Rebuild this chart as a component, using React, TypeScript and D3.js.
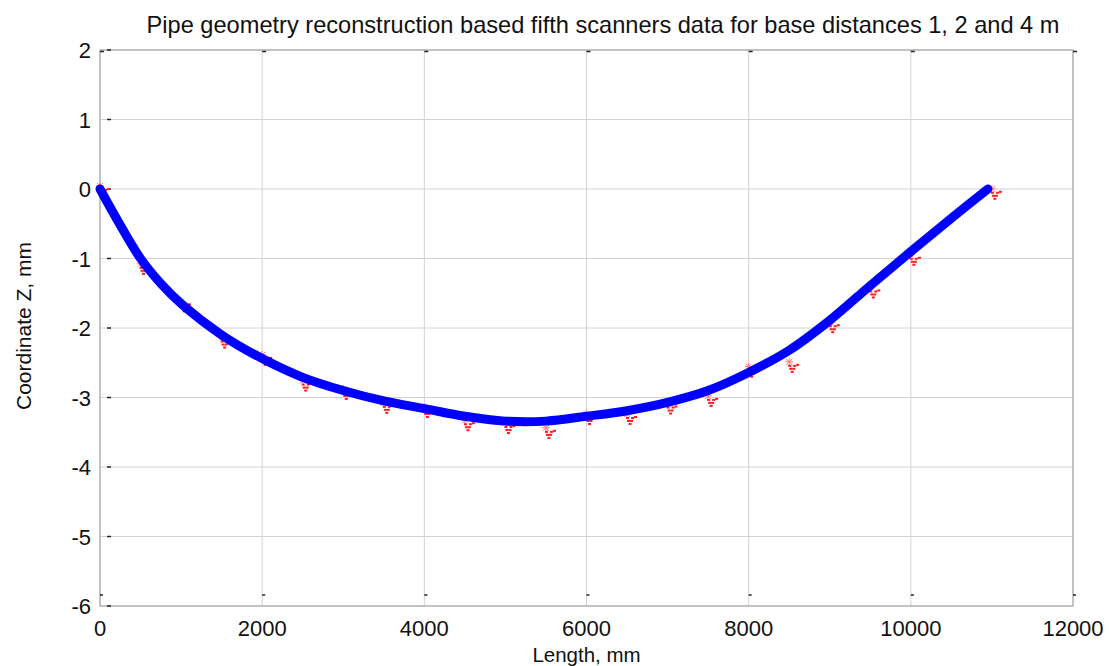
import { useEffect, useRef } from 'react'
import * as d3 from 'd3'

// blue reconstruction curve (length mm, Z mm)
const curveX = [0, 250, 500, 750, 1000, 1500, 2000, 2500, 3000, 3500, 4000, 4500, 5000, 5500, 6000, 6500, 7000, 7500, 8000, 8500, 9000, 9500, 10000, 10500, 10950]
const curveZ = [0, -0.52, -1.0, -1.36, -1.65, -2.1, -2.44, -2.71, -2.9, -3.05, -3.16, -3.27, -3.34, -3.34, -3.27, -3.19, -3.07, -2.9, -2.64, -2.32, -1.89, -1.39, -0.9, -0.42, 0]

// red scanner points
const scanX = [0, 500, 1000, 1500, 2000, 2500, 3000, 3500, 4000, 4500, 5000, 5500, 6000, 6500, 7000, 7500, 8000, 8500, 9000, 9500, 10000, 11000]
const scanZ = [0, -1.12, -1.66, -2.18, -2.43, -2.8, -2.92, -3.12, -3.18, -3.37, -3.41, -3.48, -3.28, -3.28, -3.13, -3.02, -2.6, -2.53, -1.96, -1.46, -0.99, -0.04]

const xTicks = [0, 2000, 4000, 6000, 8000, 10000, 12000]
const yTicks = [2, 1, 0, -1, -2, -3, -4, -5, -6]

const title = 'Pipe geometry reconstruction based fifth scanners data for base distances 1, 2 and 4 m'
const xLabel = 'Length, mm'
const yLabel = 'Coordinate Z, mm'

export default function App() {
  const ref = useRef<SVGSVGElement>(null)

  useEffect(() => {
    if (!ref.current) return
    const svg = d3.select(ref.current)
    svg.selectAll('*').remove()

    const W = 1109, H = 666
    const left = 100, right = 1073, top = 50, bottom = 606
    const font = 'Liberation Sans, Arial, sans-serif'

    const x = d3.scaleLinear().domain([0, 12000]).range([left, right])
    const y = d3.scaleLinear().domain([-6, 2]).range([bottom, top])

    svg.append('rect').attr('width', W).attr('height', H).attr('fill', '#fff')

    // grid
    svg.append('g').selectAll('line')
      .data(xTicks)
      .enter()
      .append('line')
      .attr('x1', d => x(d)).attr('x2', d => x(d))
      .attr('y1', top).attr('y2', bottom)
      .attr('stroke', '#d2d2d2').attr('stroke-width', 1)
    svg.append('g').selectAll('line')
      .data(yTicks)
      .enter()
      .append('line')
      .attr('x1', left).attr('x2', right)
      .attr('y1', d => y(d)).attr('y2', d => y(d))
      .attr('stroke', '#d2d2d2').attr('stroke-width', 1)

    // box
    svg.append('rect')
      .attr('x', left).attr('y', top)
      .attr('width', right - left).attr('height', bottom - top)
      .attr('fill', 'none').attr('stroke', '#aaaaaa').attr('stroke-width', 1.2)

    // small inner ticks
    const ticks = svg.append('g').attr('stroke', '#222').attr('stroke-width', 1.5)
    yTicks.forEach(t => {
      ticks.append('line').attr('x1', left + 7).attr('x2', left + 11).attr('y1', y(t)).attr('y2', y(t))
    })
    xTicks.forEach(t => {
      ticks.append('line').attr('x1', x(t)).attr('x2', x(t) + 3).attr('y1', bottom - 11).attr('y2', bottom - 11)
      ticks.append('line').attr('x1', x(t)).attr('x2', x(t) + 4).attr('y1', top + 1.5).attr('y2', top + 1.5)
    })

    // tick labels
    svg.append('g').selectAll('text')
      .data(xTicks)
      .enter()
      .append('text')
      .attr('x', d => x(d))
      .attr('y', bottom + 30)
      .attr('text-anchor', 'middle')
      .attr('font-family', font)
      .attr('font-size', 22)
      .attr('fill', '#111')
      .text(d => String(d))
    svg.append('g').selectAll('text')
      .data(yTicks)
      .enter()
      .append('text')
      .attr('x', left - 9)
      .attr('y', d => y(d) + 8)
      .attr('text-anchor', 'end')
      .attr('font-family', font)
      .attr('font-size', 22)
      .attr('fill', '#111')
      .text(d => String(d))

    // labels
    svg.append('text')
      .attr('x', 603).attr('y', 33)
      .attr('text-anchor', 'middle')
      .attr('font-family', font).attr('font-size', 23.6)
      .attr('fill', '#111')
      .text(title)
    svg.append('text')
      .attr('x', (left + right) / 2).attr('y', 662)
      .attr('text-anchor', 'middle')
      .attr('font-family', font).attr('font-size', 20.5)
      .attr('fill', '#111')
      .text(xLabel)
    svg.append('text')
      .attr('transform', `translate(31,${(top + bottom) / 2 - 2}) rotate(-90)`)
      .attr('text-anchor', 'middle')
      .attr('font-family', font).attr('font-size', 21)
      .attr('fill', '#111')
      .text(yLabel)

    // red scanner markers: asterisk + triangle of dots
    const scans = scanX.map((v, i) => ({ x: v, z: scanZ[i] }))
    const star = svg.append('g').attr('stroke', '#ff7a7a').attr('stroke-width', 1)
    scans.forEach(d => {
      const cx = x(d.x), cy = y(d.z) - 3
      star.append('path')
        .attr('d', `M${cx - 4},${cy}L${cx + 4},${cy}M${cx},${cy - 4}L${cx},${cy + 4}M${cx - 3},${cy - 3}L${cx + 3},${cy + 3}M${cx - 3},${cy + 3}L${cx + 3},${cy - 3}`)
    })
    const dotOffsets = [[-1, 0], [4, 0], [0, 3], [3, 3], [1.5, 6], [7, -1]]
    const dots = svg.append('g').attr('fill', '#ff1a1a')
    scans.forEach(d => {
      const cx = x(d.x), cy = y(d.z)
      dotOffsets.forEach(([dx, dy]) => {
        dots.append('rect')
          .attr('x', cx + dx).attr('y', cy + dy)
          .attr('width', 3).attr('height', 2)
      })
    })

    // blue curve
    const pts = curveX.map((v, i) => [v, curveZ[i]] as [number, number])
    const line = d3.line<[number, number]>()
      .x(d => x(d[0]))
      .y(d => y(d[1]))
      .curve(d3.curveCatmullRom.alpha(0.5))
    svg.append('path')
      .datum(pts)
      .attr('d', line)
      .attr('fill', 'none')
      .attr('stroke', '#0000ff')
      .attr('stroke-width', 9)
      .attr('stroke-linecap', 'round')
      .attr('stroke-linejoin', 'round')
  }, [])

  return (
    <div style={{ position: 'fixed', left: 0, top: 0 }}>
      <svg ref={ref} width={1109} height={666} />
    </div>
  )
}
